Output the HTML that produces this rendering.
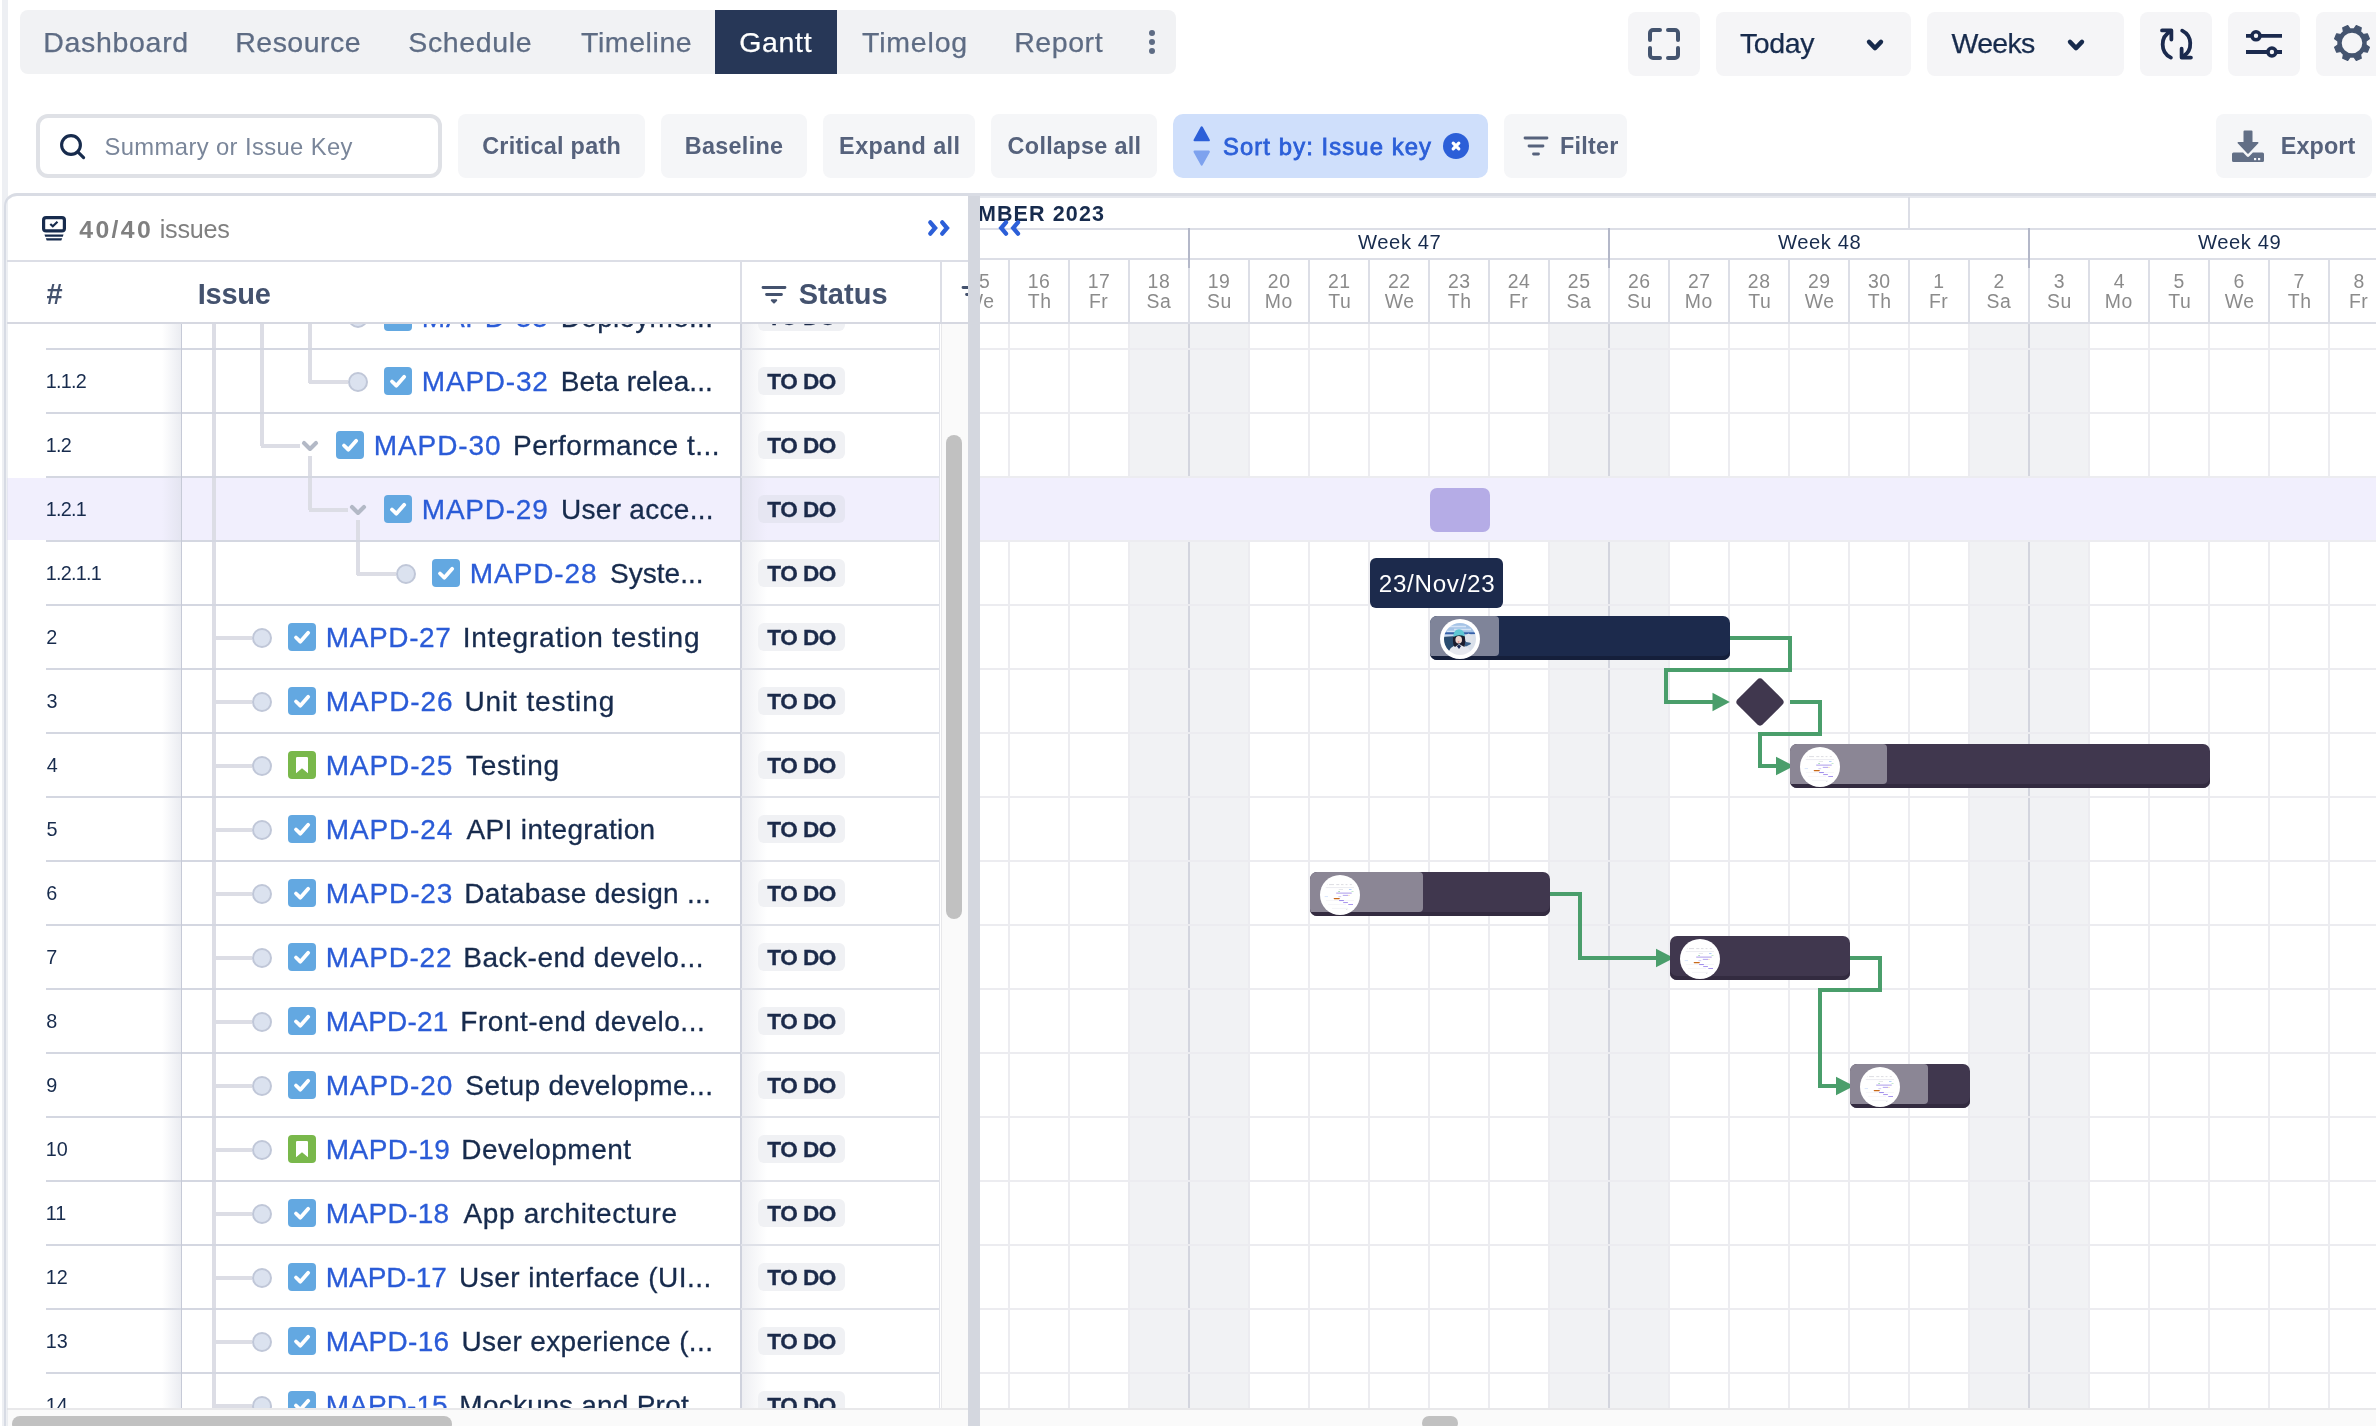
<!DOCTYPE html>
<html><head><meta charset="utf-8"><title>Gantt</title>
<style>
html,body{margin:0;padding:0;background:#fff;}
body{will-change:transform;width:2376px;height:1426px;position:relative;overflow:hidden;font-family:"Liberation Sans",sans-serif;}
.b{position:absolute;box-sizing:content-box;}
.t{position:absolute;white-space:nowrap;}
svg{display:block;overflow:visible;}
</style></head>
<body>
<div class="b" style="left:20px;top:10px;width:1156px;height:64px;background:#f1f2f4;border-radius:8px;"></div>
<div class="b" style="left:715px;top:10px;width:122px;height:64px;background:#273757;"></div>
<div class="t" style="left:43.23px;top:23.82px;font-size:28.5px;line-height:37px;color:#5e6c84;letter-spacing:0.694px;-webkit-text-stroke:0.25px;">Dashboard</div>
<div class="t" style="left:235.22px;top:23.82px;font-size:28.5px;line-height:37px;color:#5e6c84;letter-spacing:0.489px;-webkit-text-stroke:0.25px;">Resource</div>
<div class="t" style="left:408.35px;top:23.82px;font-size:28.5px;line-height:37px;color:#5e6c84;letter-spacing:0.632px;-webkit-text-stroke:0.25px;">Schedule</div>
<div class="t" style="left:580.98px;top:23.82px;font-size:28.5px;line-height:37px;color:#5e6c84;letter-spacing:0.579px;-webkit-text-stroke:0.25px;">Timeline</div>
<div class="t" style="left:861.98px;top:23.82px;font-size:28.5px;line-height:37px;color:#5e6c84;letter-spacing:0.821px;-webkit-text-stroke:0.25px;">Timelog</div>
<div class="t" style="left:1014.23px;top:23.82px;font-size:28.5px;line-height:37px;color:#5e6c84;letter-spacing:0.560px;-webkit-text-stroke:0.25px;">Report</div>
<div class="t" style="left:739.23px;top:23.82px;font-size:28.5px;line-height:37px;color:#ffffff;letter-spacing:0.669px;-webkit-text-stroke:0.25px;">Gantt</div>
<div class="b" style="left:1149px;top:30px;width:6px;height:6px;background:#5e6c84;border-radius:3px;"></div>
<div class="b" style="left:1149px;top:39px;width:6px;height:6px;background:#5e6c84;border-radius:3px;"></div>
<div class="b" style="left:1149px;top:48px;width:6px;height:6px;background:#5e6c84;border-radius:3px;"></div>
<div class="b" style="left:1628px;top:12px;width:72px;height:64px;background:#f5f5f7;border-radius:8px;"></div>
<div class="b" style="left:1716px;top:12px;width:195px;height:64px;background:#f5f5f7;border-radius:8px;"></div>
<div class="b" style="left:1927px;top:12px;width:197px;height:64px;background:#f5f5f7;border-radius:8px;"></div>
<div class="b" style="left:2140px;top:12px;width:72px;height:64px;background:#f5f5f7;border-radius:8px;"></div>
<div class="b" style="left:2228px;top:12px;width:72px;height:64px;background:#f5f5f7;border-radius:8px;"></div>
<div class="b" style="left:2316px;top:12px;width:72px;height:64px;background:#f5f5f7;border-radius:8px;"></div>
<div class="t" style="left:1739.97px;top:24.62px;font-size:28.5px;line-height:37px;color:#172b4d;letter-spacing:-0.362px;-webkit-text-stroke:0.25px;">Today</div>
<div class="t" style="left:1951.47px;top:24.62px;font-size:28.5px;line-height:37px;color:#172b4d;letter-spacing:-0.675px;-webkit-text-stroke:0.25px;">Weeks</div>
<svg class="b" style="left:1863px;top:32.9px;" width="24" height="24" viewBox="0 0 24 24"><path d="M6 8.900 L12 15.100 L18 8.900" fill="none" stroke="#172b4d" stroke-width="4.400" stroke-linecap="round" stroke-linejoin="round"/></svg>
<svg class="b" style="left:2064px;top:32.9px;" width="24" height="24" viewBox="0 0 24 24"><path d="M6 8.900 L12 15.100 L18 8.900" fill="none" stroke="#172b4d" stroke-width="4.400" stroke-linecap="round" stroke-linejoin="round"/></svg>
<svg class="b" style="left:1644px;top:23.799999999999997px;" width="40" height="40" viewBox="0 0 40 40"><g transform="translate(20,20)" fill="none" stroke="#44546f" stroke-width="4" stroke-linecap="round"><path d="M-14 -4V-11a3 3 0 0 1 3-3H-4"/><path d="M4 -14H11a3 3 0 0 1 3 3V-4"/><path d="M14 4V11a3 3 0 0 1-3 3H4"/><path d="M-4 14H-11a3 3 0 0 1-3-3V4"/></g></svg>
<svg class="b" style="left:2156px;top:24px;" width="40" height="40" viewBox="0 0 40 40"><g transform="translate(20.300,20.300) scale(0.950) translate(-20,-20)" fill="none" stroke="#1b2a4e" stroke-width="4" stroke-linecap="round" stroke-linejoin="round"><path d="M14.300 34 A15.500 15.500 0 0 1 14.300 6.200"/><path d="M5 5.400H14.800V15"/><path d="M26.200 5.600 A15.500 15.500 0 0 1 27.500 32.500"/><path d="M25.600 24.600V34H35.400"/></g></svg>
<svg class="b" style="left:2244px;top:24px;" width="40" height="40" viewBox="0 0 40 40"><g fill="none" stroke="#1b2a4e" stroke-width="3.800"><path d="M2 11.800H8 M16 11.800H38"/><circle cx="12" cy="11.800" r="4" stroke-width="3.600"/><path d="M2 28H24 M32 28H38"/><circle cx="27.900" cy="28" r="4" stroke-width="3.600"/></g></svg>
<svg class="b" style="left:2329.7px;top:21.4px;" width="44" height="44" viewBox="0 0 44 44"><g transform="translate(22,22)"><path d="M-3.600 -13.500 L-2.700 -17.700 H2.700 L3.600 -13.500Z" transform="rotate(22.5)" fill="#44546f" stroke="#44546f" stroke-width="1.200" stroke-linejoin="round"/><path d="M-3.600 -13.500 L-2.700 -17.700 H2.700 L3.600 -13.500Z" transform="rotate(67.5)" fill="#44546f" stroke="#44546f" stroke-width="1.200" stroke-linejoin="round"/><path d="M-3.600 -13.500 L-2.700 -17.700 H2.700 L3.600 -13.500Z" transform="rotate(112.5)" fill="#44546f" stroke="#44546f" stroke-width="1.200" stroke-linejoin="round"/><path d="M-3.600 -13.500 L-2.700 -17.700 H2.700 L3.600 -13.500Z" transform="rotate(157.5)" fill="#44546f" stroke="#44546f" stroke-width="1.200" stroke-linejoin="round"/><path d="M-3.600 -13.500 L-2.700 -17.700 H2.700 L3.600 -13.500Z" transform="rotate(202.5)" fill="#44546f" stroke="#44546f" stroke-width="1.200" stroke-linejoin="round"/><path d="M-3.600 -13.500 L-2.700 -17.700 H2.700 L3.600 -13.500Z" transform="rotate(247.5)" fill="#44546f" stroke="#44546f" stroke-width="1.200" stroke-linejoin="round"/><path d="M-3.600 -13.500 L-2.700 -17.700 H2.700 L3.600 -13.500Z" transform="rotate(292.5)" fill="#44546f" stroke="#44546f" stroke-width="1.200" stroke-linejoin="round"/><path d="M-3.600 -13.500 L-2.700 -17.700 H2.700 L3.600 -13.500Z" transform="rotate(337.5)" fill="#44546f" stroke="#44546f" stroke-width="1.200" stroke-linejoin="round"/><circle r="12.500" fill="none" stroke="#44546f" stroke-width="4.400"/></g></svg>
<div class="b" style="left:36px;top:114px;width:398px;height:56px;border:4px solid #dfe1e6;border-radius:12px;background:#fff"></div>
<svg class="b" style="left:56px;top:130px;" width="34" height="34" viewBox="0 0 34 34"><circle cx="15" cy="15" r="9.400" fill="none" stroke="#172b4d" stroke-width="3.100"/><path d="M21.800 21.800 L27.600 27.600" stroke="#172b4d" stroke-width="3.100" stroke-linecap="round"/></svg>
<div class="t" style="left:104.47px;top:130.95px;font-size:23.8px;line-height:31px;color:#7a869a;letter-spacing:0.384px;">Summary or Issue Key</div>
<div class="b" style="left:458px;top:114px;width:187px;height:64px;background:#f5f6f8;border-radius:8px;"></div>
<div class="t" style="left:482.20px;top:131.09px;font-size:23.4px;line-height:30px;color:#56627c;letter-spacing:0.287px;font-weight:bold;">Critical path</div>
<div class="b" style="left:661px;top:114px;width:146px;height:64px;background:#f5f6f8;border-radius:8px;"></div>
<div class="t" style="left:684.70px;top:131.09px;font-size:23.4px;line-height:30px;color:#56627c;letter-spacing:0.314px;font-weight:bold;">Baseline</div>
<div class="b" style="left:823px;top:114px;width:152px;height:64px;background:#f5f6f8;border-radius:8px;"></div>
<div class="t" style="left:839.10px;top:131.09px;font-size:23.4px;line-height:30px;color:#56627c;letter-spacing:0.436px;font-weight:bold;">Expand all</div>
<div class="b" style="left:991px;top:114px;width:166px;height:64px;background:#f5f6f8;border-radius:8px;"></div>
<div class="t" style="left:1007.60px;top:131.09px;font-size:23.4px;line-height:30px;color:#56627c;letter-spacing:0.311px;font-weight:bold;">Collapse all</div>
<div class="b" style="left:1173px;top:114px;width:315px;height:64px;background:#cfdffb;border-radius:10px;"></div>
<div class="t" style="left:1222.97px;top:131.45px;font-size:23.8px;line-height:31px;color:#2c5fd8;letter-spacing:1.112px;-webkit-text-stroke:0.8px;">Sort by: Issue key</div>
<svg class="b" style="left:1190px;top:124px;" width="24" height="46" viewBox="0 0 24 46"><path d="M11.700 3.400 L18.800 16.200 H4.600 Z" fill="#2c5fd8" stroke="#2c5fd8" stroke-width="2.200" stroke-linejoin="round"/><path d="M11.700 40.500 L18.800 27.600 H4.600 Z" fill="#7ea2ee" stroke="#7ea2ee" stroke-width="2.200" stroke-linejoin="round"/></svg>
<div class="b" style="left:1442.7px;top:132.8px;width:26.4px;height:26.4px;background:#2c5fd8;border-radius:14px;"></div>
<svg class="b" style="left:1449px;top:139px;" width="14" height="14" viewBox="0 0 14 14"><path d="M4.200 4.200 L9.800 9.800 M9.800 4.200 L4.200 9.800" stroke="#fff" stroke-width="3.200" stroke-linecap="round"/></svg>
<div class="b" style="left:1504px;top:114px;width:123px;height:64px;background:#f5f6f8;border-radius:8px;"></div>
<svg class="b" style="left:1522px;top:134px;" width="28" height="24" viewBox="0 0 28 24"><path d="M3 4H25 M7 12H21 M11.5 20H16.5" stroke="#56627c" stroke-width="2.8" stroke-linecap="round"/></svg>
<div class="t" style="left:1559.90px;top:131.09px;font-size:23.4px;line-height:30px;color:#56627c;letter-spacing:0.265px;font-weight:bold;">Filter</div>
<div class="b" style="left:2216px;top:114px;width:156px;height:64px;background:#f5f6f8;border-radius:8px;"></div>
<svg class="b" style="left:2232px;top:130px;" width="32" height="32" viewBox="0 0 32 32"><path d="M12.5 0.5h7a1 1 0 0 1 1 1V12h5.3a.7 .7 0 0 1 .5 1.2L16.6 23.6a.9 .9 0 0 1-1.2 0L5.7 13.2a.7 .7 0 0 1 .5-1.2h5.3V1.5a1 1 0 0 1 1-1z" fill="#626f86"/><path d="M1.5 22.5h9.6l3.6 3.7a1.8 1.8 0 0 0 2.6 0l3.6-3.7h9.6a1.5 1.5 0 0 1 1.5 1.5v6.5a1.5 1.5 0 0 1-1.5 1.5h-29A1.5 1.5 0 0 1 0 30.500V24a1.500 1.500 0 0 1 1.500-1.500z" fill="#626f86"/><rect x="22" y="28" width="2.2" height="2.2" fill="#f5f6f8"/><rect x="26" y="28" width="2.200" height="2.200" fill="#f5f6f8"/></svg>
<div class="t" style="left:2280.70px;top:131.09px;font-size:23.4px;line-height:30px;color:#56627c;letter-spacing:0.105px;font-weight:bold;">Export</div>
<div class="b" style="left:4px;top:193px;width:962px;height:1240px;border:2px solid #d8dbe4;border-top-width:3px;border-top-color:#d9dce4;border-right:none;border-radius:13px 0 0 0;background:#fff"></div>
<div class="b" style="left:980px;top:197px;width:1396px;height:1229px;background:#fff;"></div>
<div class="b" style="left:960px;top:193px;width:1416px;height:3px;background:#d9dce4;"></div>
<div class="b" style="left:980px;top:196px;width:1396px;height:2px;background:#e6e8ee;"></div>
<div class="b" style="left:1129px;top:324px;width:120px;height:1084px;background:#f1f2f4;"></div>
<div class="b" style="left:1549px;top:324px;width:120px;height:1084px;background:#f1f2f4;"></div>
<div class="b" style="left:1969px;top:324px;width:120px;height:1084px;background:#f1f2f4;"></div>
<div class="b" style="left:949px;top:324px;width:60px;height:1084px;background:#fff;"></div>
<div class="b" style="left:980px;top:478px;width:1396px;height:63px;background:#f1effd;"></div>
<div class="b" style="left:1008px;top:324px;width:2px;height:1084px;background:#ececf0;"></div>
<div class="b" style="left:1068px;top:324px;width:2px;height:1084px;background:#ececf0;"></div>
<div class="b" style="left:1128px;top:324px;width:2px;height:1084px;background:#ececf0;"></div>
<div class="b" style="left:1188px;top:324px;width:2px;height:1084px;background:#d3d5de;"></div>
<div class="b" style="left:1248px;top:324px;width:2px;height:1084px;background:#ececf0;"></div>
<div class="b" style="left:1308px;top:324px;width:2px;height:1084px;background:#ececf0;"></div>
<div class="b" style="left:1368px;top:324px;width:2px;height:1084px;background:#ececf0;"></div>
<div class="b" style="left:1428px;top:324px;width:2px;height:1084px;background:#ececf0;"></div>
<div class="b" style="left:1488px;top:324px;width:2px;height:1084px;background:#ececf0;"></div>
<div class="b" style="left:1548px;top:324px;width:2px;height:1084px;background:#ececf0;"></div>
<div class="b" style="left:1608px;top:324px;width:2px;height:1084px;background:#d3d5de;"></div>
<div class="b" style="left:1668px;top:324px;width:2px;height:1084px;background:#ececf0;"></div>
<div class="b" style="left:1728px;top:324px;width:2px;height:1084px;background:#ececf0;"></div>
<div class="b" style="left:1788px;top:324px;width:2px;height:1084px;background:#ececf0;"></div>
<div class="b" style="left:1848px;top:324px;width:2px;height:1084px;background:#ececf0;"></div>
<div class="b" style="left:1908px;top:324px;width:2px;height:1084px;background:#ececf0;"></div>
<div class="b" style="left:1968px;top:324px;width:2px;height:1084px;background:#ececf0;"></div>
<div class="b" style="left:2028px;top:324px;width:2px;height:1084px;background:#d3d5de;"></div>
<div class="b" style="left:2088px;top:324px;width:2px;height:1084px;background:#ececf0;"></div>
<div class="b" style="left:2148px;top:324px;width:2px;height:1084px;background:#ececf0;"></div>
<div class="b" style="left:2208px;top:324px;width:2px;height:1084px;background:#ececf0;"></div>
<div class="b" style="left:2268px;top:324px;width:2px;height:1084px;background:#ececf0;"></div>
<div class="b" style="left:2328px;top:324px;width:2px;height:1084px;background:#ececf0;"></div>
<div class="b" style="left:980px;top:348px;width:1396px;height:2px;background:#ececf0;"></div>
<div class="b" style="left:980px;top:412px;width:1396px;height:2px;background:#ececf0;"></div>
<div class="b" style="left:980px;top:476px;width:1396px;height:2px;background:#ececf0;"></div>
<div class="b" style="left:980px;top:540px;width:1396px;height:2px;background:#ececf0;"></div>
<div class="b" style="left:980px;top:604px;width:1396px;height:2px;background:#ececf0;"></div>
<div class="b" style="left:980px;top:668px;width:1396px;height:2px;background:#ececf0;"></div>
<div class="b" style="left:980px;top:732px;width:1396px;height:2px;background:#ececf0;"></div>
<div class="b" style="left:980px;top:796px;width:1396px;height:2px;background:#ececf0;"></div>
<div class="b" style="left:980px;top:860px;width:1396px;height:2px;background:#ececf0;"></div>
<div class="b" style="left:980px;top:924px;width:1396px;height:2px;background:#ececf0;"></div>
<div class="b" style="left:980px;top:988px;width:1396px;height:2px;background:#ececf0;"></div>
<div class="b" style="left:980px;top:1052px;width:1396px;height:2px;background:#ececf0;"></div>
<div class="b" style="left:980px;top:1116px;width:1396px;height:2px;background:#ececf0;"></div>
<div class="b" style="left:980px;top:1180px;width:1396px;height:2px;background:#ececf0;"></div>
<div class="b" style="left:980px;top:1244px;width:1396px;height:2px;background:#ececf0;"></div>
<div class="b" style="left:980px;top:1308px;width:1396px;height:2px;background:#ececf0;"></div>
<div class="b" style="left:980px;top:1372px;width:1396px;height:2px;background:#ececf0;"></div>
<div class="b" style="left:980px;top:478px;width:1396px;height:62px;background:#f1effd;"></div>
<div class="b" style="left:980px;top:228px;width:1396px;height:2px;background:#dcdee6;"></div>
<div class="b" style="left:980px;top:258px;width:1396px;height:2px;background:#dcdee6;"></div>
<div class="b" style="left:980px;top:322px;width:1396px;height:2px;background:#dcdee6;"></div>
<div class="b" style="left:1908px;top:197px;width:2px;height:32px;background:#dcdee6;"></div>
<div class="b" style="left:1008px;top:260px;width:2px;height:62px;background:#dcdee6;"></div>
<div class="b" style="left:1068px;top:260px;width:2px;height:62px;background:#dcdee6;"></div>
<div class="b" style="left:1128px;top:260px;width:2px;height:62px;background:#dcdee6;"></div>
<div class="b" style="left:1188px;top:260px;width:2px;height:62px;background:#dcdee6;"></div>
<div class="b" style="left:1248px;top:260px;width:2px;height:62px;background:#dcdee6;"></div>
<div class="b" style="left:1308px;top:260px;width:2px;height:62px;background:#dcdee6;"></div>
<div class="b" style="left:1368px;top:260px;width:2px;height:62px;background:#dcdee6;"></div>
<div class="b" style="left:1428px;top:260px;width:2px;height:62px;background:#dcdee6;"></div>
<div class="b" style="left:1488px;top:260px;width:2px;height:62px;background:#dcdee6;"></div>
<div class="b" style="left:1548px;top:260px;width:2px;height:62px;background:#dcdee6;"></div>
<div class="b" style="left:1608px;top:260px;width:2px;height:62px;background:#dcdee6;"></div>
<div class="b" style="left:1668px;top:260px;width:2px;height:62px;background:#dcdee6;"></div>
<div class="b" style="left:1728px;top:260px;width:2px;height:62px;background:#dcdee6;"></div>
<div class="b" style="left:1788px;top:260px;width:2px;height:62px;background:#dcdee6;"></div>
<div class="b" style="left:1848px;top:260px;width:2px;height:62px;background:#dcdee6;"></div>
<div class="b" style="left:1908px;top:260px;width:2px;height:62px;background:#dcdee6;"></div>
<div class="b" style="left:1968px;top:260px;width:2px;height:62px;background:#dcdee6;"></div>
<div class="b" style="left:2028px;top:260px;width:2px;height:62px;background:#dcdee6;"></div>
<div class="b" style="left:2088px;top:260px;width:2px;height:62px;background:#dcdee6;"></div>
<div class="b" style="left:2148px;top:260px;width:2px;height:62px;background:#dcdee6;"></div>
<div class="b" style="left:2208px;top:260px;width:2px;height:62px;background:#dcdee6;"></div>
<div class="b" style="left:2268px;top:260px;width:2px;height:62px;background:#dcdee6;"></div>
<div class="b" style="left:2328px;top:260px;width:2px;height:62px;background:#dcdee6;"></div>
<div class="b" style="left:1188px;top:228px;width:2px;height:32px;background:#dcdee6;"></div>
<div class="b" style="left:1188px;top:228px;width:2px;height:40px;background:#b4b8c9;"></div>
<div class="b" style="left:1608px;top:228px;width:2px;height:32px;background:#dcdee6;"></div>
<div class="b" style="left:1608px;top:228px;width:2px;height:40px;background:#b4b8c9;"></div>
<div class="b" style="left:2028px;top:228px;width:2px;height:32px;background:#dcdee6;"></div>
<div class="b" style="left:2028px;top:228px;width:2px;height:40px;background:#b4b8c9;"></div>
<div class="b" style="left:980px;top:197px;width:200px;height:31px;overflow:hidden">
<div class="t" style="right:75px;top:2.8px;font-size:21.5px;line-height:28px;font-weight:bold;color:#172b4d;letter-spacing:1.1px;">NOVEMBER 2023</div>
</div>
<div class="t" style="left:1357.95px;top:228.80px;font-size:20.2px;line-height:26px;color:#172b4d;letter-spacing:0.600px;">Week 47</div>
<div class="t" style="left:1777.89px;top:228.80px;font-size:20.2px;line-height:26px;color:#172b4d;letter-spacing:0.600px;">Week 48</div>
<div class="t" style="left:2197.89px;top:228.80px;font-size:20.2px;line-height:26px;color:#172b4d;letter-spacing:0.600px;">Week 49</div>
<div class="t" style="left:967.58px;top:268.50px;font-size:19.4px;line-height:25px;color:#8b8b8b;letter-spacing:0.600px;">15</div>
<div class="t" style="left:964.70px;top:288.80px;font-size:19.4px;line-height:25px;color:#8b8b8b;letter-spacing:0.600px;">We</div>
<div class="t" style="left:1027.64px;top:268.50px;font-size:19.4px;line-height:25px;color:#8b8b8b;letter-spacing:0.600px;">16</div>
<div class="t" style="left:1027.83px;top:288.80px;font-size:19.4px;line-height:25px;color:#8b8b8b;letter-spacing:0.600px;">Th</div>
<div class="t" style="left:1087.64px;top:268.50px;font-size:19.4px;line-height:25px;color:#8b8b8b;letter-spacing:0.600px;">17</div>
<div class="t" style="left:1088.89px;top:288.80px;font-size:19.4px;line-height:25px;color:#8b8b8b;letter-spacing:0.600px;">Fr</div>
<div class="t" style="left:1147.58px;top:268.50px;font-size:19.4px;line-height:25px;color:#8b8b8b;letter-spacing:0.600px;">18</div>
<div class="t" style="left:1146.39px;top:288.80px;font-size:19.4px;line-height:25px;color:#8b8b8b;letter-spacing:0.600px;">Sa</div>
<div class="t" style="left:1207.64px;top:268.50px;font-size:19.4px;line-height:25px;color:#8b8b8b;letter-spacing:0.600px;">19</div>
<div class="t" style="left:1207.01px;top:288.80px;font-size:19.4px;line-height:25px;color:#8b8b8b;letter-spacing:0.600px;">Su</div>
<div class="t" style="left:1267.83px;top:268.50px;font-size:19.4px;line-height:25px;color:#8b8b8b;letter-spacing:0.600px;">20</div>
<div class="t" style="left:1264.83px;top:288.80px;font-size:19.4px;line-height:25px;color:#8b8b8b;letter-spacing:0.600px;">Mo</div>
<div class="t" style="left:1327.89px;top:268.50px;font-size:19.4px;line-height:25px;color:#8b8b8b;letter-spacing:0.600px;">21</div>
<div class="t" style="left:1328.20px;top:288.80px;font-size:19.4px;line-height:25px;color:#8b8b8b;letter-spacing:0.600px;">Tu</div>
<div class="t" style="left:1387.89px;top:268.50px;font-size:19.4px;line-height:25px;color:#8b8b8b;letter-spacing:0.600px;">22</div>
<div class="t" style="left:1384.70px;top:288.80px;font-size:19.4px;line-height:25px;color:#8b8b8b;letter-spacing:0.600px;">We</div>
<div class="t" style="left:1447.89px;top:268.50px;font-size:19.4px;line-height:25px;color:#8b8b8b;letter-spacing:0.600px;">23</div>
<div class="t" style="left:1447.83px;top:288.80px;font-size:19.4px;line-height:25px;color:#8b8b8b;letter-spacing:0.600px;">Th</div>
<div class="t" style="left:1507.70px;top:268.50px;font-size:19.4px;line-height:25px;color:#8b8b8b;letter-spacing:0.600px;">24</div>
<div class="t" style="left:1508.89px;top:288.80px;font-size:19.4px;line-height:25px;color:#8b8b8b;letter-spacing:0.600px;">Fr</div>
<div class="t" style="left:1567.83px;top:268.50px;font-size:19.4px;line-height:25px;color:#8b8b8b;letter-spacing:0.600px;">25</div>
<div class="t" style="left:1566.39px;top:288.80px;font-size:19.4px;line-height:25px;color:#8b8b8b;letter-spacing:0.600px;">Sa</div>
<div class="t" style="left:1627.89px;top:268.50px;font-size:19.4px;line-height:25px;color:#8b8b8b;letter-spacing:0.600px;">26</div>
<div class="t" style="left:1627.01px;top:288.80px;font-size:19.4px;line-height:25px;color:#8b8b8b;letter-spacing:0.600px;">Su</div>
<div class="t" style="left:1687.89px;top:268.50px;font-size:19.4px;line-height:25px;color:#8b8b8b;letter-spacing:0.600px;">27</div>
<div class="t" style="left:1684.83px;top:288.80px;font-size:19.4px;line-height:25px;color:#8b8b8b;letter-spacing:0.600px;">Mo</div>
<div class="t" style="left:1747.83px;top:268.50px;font-size:19.4px;line-height:25px;color:#8b8b8b;letter-spacing:0.600px;">28</div>
<div class="t" style="left:1748.20px;top:288.80px;font-size:19.4px;line-height:25px;color:#8b8b8b;letter-spacing:0.600px;">Tu</div>
<div class="t" style="left:1807.89px;top:268.50px;font-size:19.4px;line-height:25px;color:#8b8b8b;letter-spacing:0.600px;">29</div>
<div class="t" style="left:1804.70px;top:288.80px;font-size:19.4px;line-height:25px;color:#8b8b8b;letter-spacing:0.600px;">We</div>
<div class="t" style="left:1867.95px;top:268.50px;font-size:19.4px;line-height:25px;color:#8b8b8b;letter-spacing:0.600px;">30</div>
<div class="t" style="left:1867.83px;top:288.80px;font-size:19.4px;line-height:25px;color:#8b8b8b;letter-spacing:0.600px;">Th</div>
<div class="t" style="left:1933.31px;top:268.50px;font-size:19.4px;line-height:25px;color:#8b8b8b;letter-spacing:0.600px;">1</div>
<div class="t" style="left:1928.89px;top:288.80px;font-size:19.4px;line-height:25px;color:#8b8b8b;letter-spacing:0.600px;">Fr</div>
<div class="t" style="left:1993.56px;top:268.50px;font-size:19.4px;line-height:25px;color:#8b8b8b;letter-spacing:0.600px;">2</div>
<div class="t" style="left:1986.39px;top:288.80px;font-size:19.4px;line-height:25px;color:#8b8b8b;letter-spacing:0.600px;">Sa</div>
<div class="t" style="left:2053.69px;top:268.50px;font-size:19.4px;line-height:25px;color:#8b8b8b;letter-spacing:0.600px;">3</div>
<div class="t" style="left:2047.01px;top:288.80px;font-size:19.4px;line-height:25px;color:#8b8b8b;letter-spacing:0.600px;">Su</div>
<div class="t" style="left:2113.69px;top:268.50px;font-size:19.4px;line-height:25px;color:#8b8b8b;letter-spacing:0.600px;">4</div>
<div class="t" style="left:2104.82px;top:288.80px;font-size:19.4px;line-height:25px;color:#8b8b8b;letter-spacing:0.600px;">Mo</div>
<div class="t" style="left:2173.62px;top:268.50px;font-size:19.4px;line-height:25px;color:#8b8b8b;letter-spacing:0.600px;">5</div>
<div class="t" style="left:2168.20px;top:288.80px;font-size:19.4px;line-height:25px;color:#8b8b8b;letter-spacing:0.600px;">Tu</div>
<div class="t" style="left:2233.56px;top:268.50px;font-size:19.4px;line-height:25px;color:#8b8b8b;letter-spacing:0.600px;">6</div>
<div class="t" style="left:2224.70px;top:288.80px;font-size:19.4px;line-height:25px;color:#8b8b8b;letter-spacing:0.600px;">We</div>
<div class="t" style="left:2293.56px;top:268.50px;font-size:19.4px;line-height:25px;color:#8b8b8b;letter-spacing:0.600px;">7</div>
<div class="t" style="left:2287.82px;top:288.80px;font-size:19.4px;line-height:25px;color:#8b8b8b;letter-spacing:0.600px;">Th</div>
<div class="t" style="left:2353.56px;top:268.50px;font-size:19.4px;line-height:25px;color:#8b8b8b;letter-spacing:0.600px;">8</div>
<div class="t" style="left:2348.89px;top:288.80px;font-size:19.4px;line-height:25px;color:#8b8b8b;letter-spacing:0.600px;">Fr</div>
<svg class="b" style="left:996px;top:218px;" width="26" height="20" viewBox="0 0 26 20"><path d="M10 4.300 L5.200 10 L10 15.700 M22 4.300 L17.200 10 L22 15.700" fill="none" stroke="#2c5fd8" stroke-width="4.300" stroke-linecap="round" stroke-linejoin="miter"/></svg>
<div class="b" style="left:1430px;top:488px;width:60px;height:44px;background:#b5ace6;border-radius:7px;"></div>
<div class="b" style="left:1370px;top:558px;width:133px;height:50px;background:#1c2a4c;border-radius:6px;"></div>
<div class="t" style="left:1378.75px;top:567.81px;font-size:24.2px;line-height:31px;color:#ffffff;letter-spacing:0.713px;">23/Nov/23</div>
<svg class="b" style="left:0px;top:0px;" width="2376" height="1426" viewBox="0 0 2376 1426"><path d="M1730 638 L1790 638 L1790 670 L1666 670 L1666 702 L1714 702" fill="none" stroke="#4a9e6b" stroke-width="4" stroke-linejoin="miter"/><path d="M1729.8 702 L1712.5 692.8 L1712.5 711.2 Z" fill="#4a9e6b"/><path d="M1790 702 L1820 702 L1820 734 L1760 734 L1760 766 L1778 766" fill="none" stroke="#4a9e6b" stroke-width="4" stroke-linejoin="miter"/><path d="M1794 766 L1776 756.8 L1776 775.2 Z" fill="#4a9e6b"/><path d="M1550 894 L1580 894 L1580 958 L1658 958" fill="none" stroke="#4a9e6b" stroke-width="4" stroke-linejoin="miter"/><path d="M1674 958 L1656 948.8 L1656 967.2 Z" fill="#4a9e6b"/><path d="M1850 958 L1880 958 L1880 990 L1820 990 L1820 1086 L1838 1086" fill="none" stroke="#4a9e6b" stroke-width="4" stroke-linejoin="miter"/><path d="M1854 1086 L1836 1076.8 L1836 1095.2 Z" fill="#4a9e6b"/></svg>
<div class="b" style="left:1430px;top:616px;width:300px;height:44px;background:#1c2a4c;border-radius:7px;box-shadow:inset 0 -4px 0 #151f3b;overflow:hidden"><div style="position:absolute;left:0;top:0;width:69px;height:40px;background:#7f8499;border-radius:6px 4px 4px 0"></div></div>
<div class="b" style="left:1440px;top:619px;width:40px;height:40px;background:#fff;border-radius:20px;"></div>
<svg class="b" style="left:1444px;top:623px;" width="32" height="32" viewBox="0 0 32 32"><defs><clipPath id="cp"><circle cx="16" cy="16" r="16"/></clipPath><filter id="bl" x="-20%" y="-20%" width="140%" height="140%"><feGaussianBlur stdDeviation="0.55"/></filter></defs><g clip-path="url(#cp)"><g filter="url(#bl)"><rect x="-2" y="-2" width="36" height="36" fill="#a5c3e6"/><path d="M4 3.500H22 M10 6.500H27 M3 8.500H14" stroke="#d4e3f5" stroke-width="1.300"/><rect x="-2" y="9.300" width="36" height="2.200" fill="#3560a8"/><rect x="-2" y="11.500" width="36" height="3" fill="#c9d9ee"/><path d="M-2 14 L12 13 L14 30 L-2 30Z" fill="#2c4d70"/><path d="M20 12 L34 11 V30 H20Z" fill="#d9e0ea"/><path d="M19 19 L25 16 L27 21 L21 24Z" fill="#3a5f88"/><path d="M3 34 Q5 22 15 21.500 Q26 22 29 34Z" fill="#e6e8ef"/><path d="M19 14 L24.500 10.500 L29 13 L28 20 L22 19Z" fill="#dde2ea"/><path d="M9 13.500 Q8.500 23 11 24 L15 21 L20.500 24 Q22 18 20.800 13 Q15 9 9 13.500Z" fill="#1a1f2e"/><ellipse cx="14.700" cy="16.700" rx="3.300" ry="3.800" fill="#edd6cf"/><path d="M13.800 18.300 H15.300 V19.600 H13.800Z" fill="#d9807f"/><path d="M12.800 23 L15 26 L17.200 23 L15 21.800Z" fill="#1d2a55"/><path d="M9.300 14 Q9.500 6.500 15 6.300 Q20.500 6.500 20.800 13.500 Q15 10.800 9.300 14Z" fill="#5fc7d4"/></g></g></svg>
<svg class="b" style="left:1732px;top:674px;" width="56" height="56" viewBox="0 0 56 56"><rect x="10.200" y="10.200" width="35.600" height="35.600" rx="4" transform="rotate(45 28 28)" fill="#40374e"/></svg>
<div class="b" style="left:1790px;top:744px;width:420px;height:44px;background:#40374e;border-radius:7px;box-shadow:inset 0 -4px 0 #332b40;overflow:hidden"><div style="position:absolute;left:0;top:0;width:97px;height:40px;background:#8b8695;border-radius:6px 4px 4px 0"></div></div>
<div class="b" style="left:1800px;top:747px;width:40px;height:40px;background:#fff;border-radius:20px;"></div>
<svg class="b" style="left:1800px;top:747px;" width="40" height="40" viewBox="0 0 40 40"><g transform="translate(20,20)" stroke-linecap="butt"><path d="M-12.700 -10.400H-12.200 M-11 -10.400H-6 M-3.700 -10.400H-0.700 M1 -10.400H3.500 M5.600 -10.400H7.400 M9.800 -10.400H11.800" stroke="#d3d3da" stroke-width="0.800"/><path d="M-14.300 -7.400H14" stroke="#ececf1" stroke-width="1"/><path d="M-14 5.500H14 M-12 9.500H6" stroke="#f4f4f8" stroke-width="0.800"/><path d="M-1.200 -5.500H3" stroke="#dcdce2" stroke-width="0.700"/><path d="M9 -5.500H11.500" stroke="#a9cbf9" stroke-width="0.900"/><path d="M-1.800 -3.500H0" stroke="#9adbab" stroke-width="0.800"/><path d="M11.500 -3.500H13.500" stroke="#a8e0b7" stroke-width="0.700"/><path d="M-3.800 -1.850H11.700" stroke="#c4b7f0" stroke-width="1.400"/><path d="M2.800 0.400H8.100" stroke="#bbabf0" stroke-width="1.100"/><path d="M8.300 0.400H9.700" stroke="#f6d4ab" stroke-width="0.900"/><path d="M-15.300 1.550H-12" stroke="#cfe0fb" stroke-width="0.800"/><path d="M-1.600 1.650H1.200" stroke="#cdc2f4" stroke-width="0.900"/><path d="M-5.700 3.600H-0.800" stroke="#c8691a" stroke-width="1.250" stroke-linecap="round"/><path d="M-0.900 5.550H3.900" stroke="#9c88ec" stroke-width="1"/><path d="M3.200 7.550H7.900" stroke="#a995ee" stroke-width="1"/><path d="M8.300 9.500H13" stroke="#a995ee" stroke-width="1"/><path d="M-8 13.400H8" stroke="#f1f1f5" stroke-width="0.800"/><path d="M6 14.500H7.300" stroke="#d9d9df" stroke-width="0.700"/></g></svg>
<div class="b" style="left:1310px;top:872px;width:240px;height:44px;background:#40374e;border-radius:7px;box-shadow:inset 0 -4px 0 #332b40;overflow:hidden"><div style="position:absolute;left:0;top:0;width:113px;height:40px;background:#8b8695;border-radius:6px 4px 4px 0"></div></div>
<div class="b" style="left:1320px;top:875px;width:40px;height:40px;background:#fff;border-radius:20px;"></div>
<svg class="b" style="left:1320px;top:875px;" width="40" height="40" viewBox="0 0 40 40"><g transform="translate(20,20)" stroke-linecap="butt"><path d="M-12.700 -10.400H-12.200 M-11 -10.400H-6 M-3.700 -10.400H-0.700 M1 -10.400H3.500 M5.600 -10.400H7.400 M9.800 -10.400H11.800" stroke="#d3d3da" stroke-width="0.800"/><path d="M-14.300 -7.400H14" stroke="#ececf1" stroke-width="1"/><path d="M-14 5.500H14 M-12 9.500H6" stroke="#f4f4f8" stroke-width="0.800"/><path d="M-1.200 -5.500H3" stroke="#dcdce2" stroke-width="0.700"/><path d="M9 -5.500H11.500" stroke="#a9cbf9" stroke-width="0.900"/><path d="M-1.800 -3.500H0" stroke="#9adbab" stroke-width="0.800"/><path d="M11.500 -3.500H13.500" stroke="#a8e0b7" stroke-width="0.700"/><path d="M-3.800 -1.850H11.700" stroke="#c4b7f0" stroke-width="1.400"/><path d="M2.800 0.400H8.100" stroke="#bbabf0" stroke-width="1.100"/><path d="M8.300 0.400H9.700" stroke="#f6d4ab" stroke-width="0.900"/><path d="M-15.300 1.550H-12" stroke="#cfe0fb" stroke-width="0.800"/><path d="M-1.600 1.650H1.200" stroke="#cdc2f4" stroke-width="0.900"/><path d="M-5.700 3.600H-0.800" stroke="#c8691a" stroke-width="1.250" stroke-linecap="round"/><path d="M-0.900 5.550H3.900" stroke="#9c88ec" stroke-width="1"/><path d="M3.200 7.550H7.900" stroke="#a995ee" stroke-width="1"/><path d="M8.300 9.500H13" stroke="#a995ee" stroke-width="1"/><path d="M-8 13.400H8" stroke="#f1f1f5" stroke-width="0.800"/><path d="M6 14.500H7.300" stroke="#d9d9df" stroke-width="0.700"/></g></svg>
<div class="b" style="left:1670px;top:936px;width:180px;height:44px;background:#40374e;border-radius:7px;box-shadow:inset 0 -4px 0 #332b40;overflow:hidden"></div>
<div class="b" style="left:1680px;top:939px;width:40px;height:40px;background:#fff;border-radius:20px;"></div>
<svg class="b" style="left:1680px;top:939px;" width="40" height="40" viewBox="0 0 40 40"><g transform="translate(20,20)" stroke-linecap="butt"><path d="M-12.700 -10.400H-12.200 M-11 -10.400H-6 M-3.700 -10.400H-0.700 M1 -10.400H3.500 M5.600 -10.400H7.400 M9.800 -10.400H11.800" stroke="#d3d3da" stroke-width="0.800"/><path d="M-14.300 -7.400H14" stroke="#ececf1" stroke-width="1"/><path d="M-14 5.500H14 M-12 9.500H6" stroke="#f4f4f8" stroke-width="0.800"/><path d="M-1.200 -5.500H3" stroke="#dcdce2" stroke-width="0.700"/><path d="M9 -5.500H11.500" stroke="#a9cbf9" stroke-width="0.900"/><path d="M-1.800 -3.500H0" stroke="#9adbab" stroke-width="0.800"/><path d="M11.500 -3.500H13.500" stroke="#a8e0b7" stroke-width="0.700"/><path d="M-3.800 -1.850H11.700" stroke="#c4b7f0" stroke-width="1.400"/><path d="M2.800 0.400H8.100" stroke="#bbabf0" stroke-width="1.100"/><path d="M8.300 0.400H9.700" stroke="#f6d4ab" stroke-width="0.900"/><path d="M-15.300 1.550H-12" stroke="#cfe0fb" stroke-width="0.800"/><path d="M-1.600 1.650H1.200" stroke="#cdc2f4" stroke-width="0.900"/><path d="M-5.700 3.600H-0.800" stroke="#c8691a" stroke-width="1.250" stroke-linecap="round"/><path d="M-0.900 5.550H3.900" stroke="#9c88ec" stroke-width="1"/><path d="M3.200 7.550H7.900" stroke="#a995ee" stroke-width="1"/><path d="M8.300 9.500H13" stroke="#a995ee" stroke-width="1"/><path d="M-8 13.400H8" stroke="#f1f1f5" stroke-width="0.800"/><path d="M6 14.500H7.300" stroke="#d9d9df" stroke-width="0.700"/></g></svg>
<div class="b" style="left:1850px;top:1064px;width:120px;height:44px;background:#40374e;border-radius:7px;box-shadow:inset 0 -4px 0 #332b40;overflow:hidden"><div style="position:absolute;left:0;top:0;width:78px;height:40px;background:#8b8695;border-radius:6px 4px 4px 0"></div></div>
<div class="b" style="left:1860px;top:1067px;width:40px;height:40px;background:#fff;border-radius:20px;"></div>
<svg class="b" style="left:1860px;top:1067px;" width="40" height="40" viewBox="0 0 40 40"><g transform="translate(20,20)" stroke-linecap="butt"><path d="M-12.700 -10.400H-12.200 M-11 -10.400H-6 M-3.700 -10.400H-0.700 M1 -10.400H3.500 M5.600 -10.400H7.400 M9.800 -10.400H11.800" stroke="#d3d3da" stroke-width="0.800"/><path d="M-14.300 -7.400H14" stroke="#ececf1" stroke-width="1"/><path d="M-14 5.500H14 M-12 9.500H6" stroke="#f4f4f8" stroke-width="0.800"/><path d="M-1.200 -5.500H3" stroke="#dcdce2" stroke-width="0.700"/><path d="M9 -5.500H11.500" stroke="#a9cbf9" stroke-width="0.900"/><path d="M-1.800 -3.500H0" stroke="#9adbab" stroke-width="0.800"/><path d="M11.500 -3.500H13.500" stroke="#a8e0b7" stroke-width="0.700"/><path d="M-3.800 -1.850H11.700" stroke="#c4b7f0" stroke-width="1.400"/><path d="M2.800 0.400H8.100" stroke="#bbabf0" stroke-width="1.100"/><path d="M8.300 0.400H9.700" stroke="#f6d4ab" stroke-width="0.900"/><path d="M-15.300 1.550H-12" stroke="#cfe0fb" stroke-width="0.800"/><path d="M-1.600 1.650H1.200" stroke="#cdc2f4" stroke-width="0.900"/><path d="M-5.700 3.600H-0.800" stroke="#c8691a" stroke-width="1.250" stroke-linecap="round"/><path d="M-0.900 5.550H3.900" stroke="#9c88ec" stroke-width="1"/><path d="M3.200 7.550H7.900" stroke="#a995ee" stroke-width="1"/><path d="M8.300 9.500H13" stroke="#a995ee" stroke-width="1"/><path d="M-8 13.400H8" stroke="#f1f1f5" stroke-width="0.800"/><path d="M6 14.500H7.300" stroke="#d9d9df" stroke-width="0.700"/></g></svg>
<div class="b" style="left:980px;top:1408px;width:1396px;height:18px;background:#fafafa;"></div>
<div class="b" style="left:980px;top:1408px;width:1396px;height:2px;background:#e8e8ea;"></div>
<div class="b" style="left:1422px;top:1416px;width:36px;height:14px;background:#c1c1c1;border-radius:7px;"></div>
<svg class="b" style="left:42px;top:216px;" width="24" height="25" viewBox="0 0 24 25"><rect x="1.600" y="1.600" width="20.800" height="13.300" rx="2.500" fill="none" stroke="#172b4d" stroke-width="3.200"/><path d="M8.300 8 L10.800 10.300 L15.500 5.800" fill="none" stroke="#172b4d" stroke-width="2.200"/><path d="M2.500 18.500H21.500L20.800 20.800H3.200Z M3.800 22.300H20.200L19.300 24.600H4.700Z" fill="#172b4d"/></svg>
<div class="t" style="left:79.22px;top:213.61px;font-size:24.8px;line-height:32px;color:#808080;letter-spacing:2.369px;font-weight:bold;">40/40</div>
<div class="t" style="left:159.78px;top:212.97px;font-size:25.2px;line-height:33px;color:#808080;letter-spacing:-0.240px;">issues</div>
<svg class="b" style="left:926px;top:218px;" width="26" height="20" viewBox="0 0 26 20"><path d="M4.300 4.300 L9.100 10 L4.300 15.700 M16.200 4.300 L21 10 L16.200 15.700" fill="none" stroke="#2c5fd8" stroke-width="4.300" stroke-linecap="round" stroke-linejoin="miter"/></svg>
<div class="b" style="left:7px;top:260px;width:961px;height:2px;background:#dcdee6;"></div>
<div class="b" style="left:7px;top:324px;width:933px;height:1084px;overflow:hidden">
<div class="b" style="left:0px;top:154px;width:933px;height:62px;background:#f1effd;"></div>
<div class="b" style="left:205.2px;top:0px;width:3.5px;height:1084px;background:#dcdde5;"></div>
<div class="b" style="left:253.2px;top:0px;width:3.5px;height:122px;background:#dcdde5;"></div>
<div class="b" style="left:301.2px;top:0px;width:3.5px;height:59px;background:#dcdde5;"></div>
<div class="b" style="left:301.2px;top:132px;width:3.5px;height:54px;background:#dcdde5;"></div>
<div class="b" style="left:349.2px;top:196px;width:3.5px;height:55px;background:#dcdde5;"></div>
<div class="b" style="left:39px;top:24px;width:894px;height:2px;background:#d4d7e1;"></div>
<div class="b" style="left:39px;top:88px;width:894px;height:2px;background:#d4d7e1;"></div>
<div class="b" style="left:39px;top:152px;width:894px;height:2px;background:#d4d7e1;"></div>
<div class="b" style="left:39px;top:216px;width:894px;height:2px;background:#d4d7e1;"></div>
<div class="b" style="left:39px;top:280px;width:894px;height:2px;background:#d4d7e1;"></div>
<div class="b" style="left:39px;top:344px;width:894px;height:2px;background:#d4d7e1;"></div>
<div class="b" style="left:39px;top:408px;width:894px;height:2px;background:#d4d7e1;"></div>
<div class="b" style="left:39px;top:472px;width:894px;height:2px;background:#d4d7e1;"></div>
<div class="b" style="left:39px;top:536px;width:894px;height:2px;background:#d4d7e1;"></div>
<div class="b" style="left:39px;top:600px;width:894px;height:2px;background:#d4d7e1;"></div>
<div class="b" style="left:39px;top:664px;width:894px;height:2px;background:#d4d7e1;"></div>
<div class="b" style="left:39px;top:728px;width:894px;height:2px;background:#d4d7e1;"></div>
<div class="b" style="left:39px;top:792px;width:894px;height:2px;background:#d4d7e1;"></div>
<div class="b" style="left:39px;top:856px;width:894px;height:2px;background:#d4d7e1;"></div>
<div class="b" style="left:39px;top:920px;width:894px;height:2px;background:#d4d7e1;"></div>
<div class="b" style="left:39px;top:984px;width:894px;height:2px;background:#d4d7e1;"></div>
<div class="b" style="left:39px;top:1048px;width:894px;height:2px;background:#d4d7e1;"></div>
<div class="b" style="left:301.5px;top:-7.699999999999989px;width:39.5px;height:3.5px;background:#dcdde5;"></div>
<div class="b" style="left:341px;top:-16px;width:16px;height:16px;border:2px solid #c0c7d8;border-radius:10px;background:#dbe2ef"></div>
<div class="b" style="left:377px;top:-21px;width:28px;height:28px;background:#63a8e1;border-radius:4px;"></div>
<svg class="b" style="left:377px;top:-21px;" width="28" height="28" viewBox="0 0 28 28"><path d="M8 14.500 L12.300 18.700 L20.200 9.800" fill="none" stroke="#fff" stroke-width="3.800" stroke-linecap="round" stroke-linejoin="round"/></svg>
<div class="t" style="margin-left:-7px;margin-top:-324px;left:45.70px;top:304.04px;font-size:19.8px;line-height:26px;color:#172b4d;letter-spacing:-0.750px;">1.1.1</div>
<div class="t" style="margin-left:-7px;margin-top:-324px;left:421.85px;top:299.50px;font-size:28.0px;line-height:36px;color:#2a5bd7;letter-spacing:0.737px;-webkit-text-stroke:0.3px;">MAPD-33</div>
<div class="t" style="margin-left:-7px;margin-top:-324px;left:560.85px;top:299.50px;font-size:28.0px;line-height:36px;color:#172b4d;letter-spacing:0.267px;-webkit-text-stroke:0.3px;">Deployme...</div>
<div class="b" style="left:301.5px;top:56.30000000000001px;width:39.5px;height:3.5px;background:#dcdde5;"></div>
<div class="b" style="left:341px;top:48px;width:16px;height:16px;border:2px solid #c0c7d8;border-radius:10px;background:#dbe2ef"></div>
<div class="b" style="left:377px;top:43px;width:28px;height:28px;background:#63a8e1;border-radius:4px;"></div>
<svg class="b" style="left:377px;top:43px;" width="28" height="28" viewBox="0 0 28 28"><path d="M8 14.500 L12.300 18.700 L20.200 9.800" fill="none" stroke="#fff" stroke-width="3.800" stroke-linecap="round" stroke-linejoin="round"/></svg>
<div class="t" style="margin-left:-7px;margin-top:-324px;left:45.70px;top:368.04px;font-size:19.8px;line-height:26px;color:#172b4d;letter-spacing:-0.750px;">1.1.2</div>
<div class="t" style="margin-left:-7px;margin-top:-324px;left:421.85px;top:363.50px;font-size:28.0px;line-height:36px;color:#2a5bd7;letter-spacing:0.779px;-webkit-text-stroke:0.3px;">MAPD-32</div>
<div class="t" style="margin-left:-7px;margin-top:-324px;left:560.85px;top:363.50px;font-size:28.0px;line-height:36px;color:#172b4d;letter-spacing:0.087px;-webkit-text-stroke:0.3px;">Beta relea...</div>
<div class="b" style="left:253.5px;top:120.30000000000001px;width:39.5px;height:3.5px;background:#dcdde5;"></div>
<svg class="b" style="left:293px;top:115px;" width="20" height="14" viewBox="0 0 20 14"><path d="M4 4.100 L10 9.900 L16 4.100" fill="none" stroke="#b3b9c6" stroke-width="4.200" stroke-linecap="round" stroke-linejoin="round"/></svg>
<div class="b" style="left:329px;top:107px;width:28px;height:28px;background:#63a8e1;border-radius:4px;"></div>
<svg class="b" style="left:329px;top:107px;" width="28" height="28" viewBox="0 0 28 28"><path d="M8 14.500 L12.300 18.700 L20.200 9.800" fill="none" stroke="#fff" stroke-width="3.800" stroke-linecap="round" stroke-linejoin="round"/></svg>
<div class="t" style="margin-left:-7px;margin-top:-324px;left:45.70px;top:432.04px;font-size:19.8px;line-height:26px;color:#172b4d;letter-spacing:-0.750px;">1.2</div>
<div class="t" style="margin-left:-7px;margin-top:-324px;left:373.85px;top:427.50px;font-size:28.0px;line-height:36px;color:#2a5bd7;letter-spacing:0.883px;-webkit-text-stroke:0.3px;">MAPD-30</div>
<div class="t" style="margin-left:-7px;margin-top:-324px;left:513.05px;top:427.50px;font-size:28.0px;line-height:36px;color:#172b4d;letter-spacing:0.482px;-webkit-text-stroke:0.3px;">Performance t...</div>
<div class="b" style="left:301.5px;top:184.3px;width:39.5px;height:3.5px;background:#dcdde5;"></div>
<svg class="b" style="left:341px;top:179px;" width="20" height="14" viewBox="0 0 20 14"><path d="M4 4.100 L10 9.900 L16 4.100" fill="none" stroke="#b3b9c6" stroke-width="4.200" stroke-linecap="round" stroke-linejoin="round"/></svg>
<div class="b" style="left:377px;top:171px;width:28px;height:28px;background:#63a8e1;border-radius:4px;"></div>
<svg class="b" style="left:377px;top:171px;" width="28" height="28" viewBox="0 0 28 28"><path d="M8 14.500 L12.300 18.700 L20.200 9.800" fill="none" stroke="#fff" stroke-width="3.800" stroke-linecap="round" stroke-linejoin="round"/></svg>
<div class="t" style="margin-left:-7px;margin-top:-324px;left:45.70px;top:496.04px;font-size:19.8px;line-height:26px;color:#172b4d;letter-spacing:-0.750px;">1.2.1</div>
<div class="t" style="margin-left:-7px;margin-top:-324px;left:421.85px;top:491.50px;font-size:28.0px;line-height:36px;color:#2a5bd7;letter-spacing:0.758px;-webkit-text-stroke:0.3px;">MAPD-29</div>
<div class="t" style="margin-left:-7px;margin-top:-324px;left:560.98px;top:491.50px;font-size:28.0px;line-height:36px;color:#172b4d;letter-spacing:0.295px;-webkit-text-stroke:0.3px;">User acce...</div>
<div class="b" style="left:349.5px;top:248.29999999999995px;width:39.5px;height:3.5px;background:#dcdde5;"></div>
<div class="b" style="left:389px;top:240px;width:16px;height:16px;border:2px solid #c0c7d8;border-radius:10px;background:#dbe2ef"></div>
<div class="b" style="left:425px;top:235px;width:28px;height:28px;background:#63a8e1;border-radius:4px;"></div>
<svg class="b" style="left:425px;top:235px;" width="28" height="28" viewBox="0 0 28 28"><path d="M8 14.500 L12.300 18.700 L20.200 9.800" fill="none" stroke="#fff" stroke-width="3.800" stroke-linecap="round" stroke-linejoin="round"/></svg>
<div class="t" style="margin-left:-7px;margin-top:-324px;left:45.70px;top:560.04px;font-size:19.8px;line-height:26px;color:#172b4d;letter-spacing:-0.750px;">1.2.1.1</div>
<div class="t" style="margin-left:-7px;margin-top:-324px;left:469.85px;top:555.50px;font-size:28.0px;line-height:36px;color:#2a5bd7;letter-spacing:0.904px;-webkit-text-stroke:0.3px;">MAPD-28</div>
<div class="t" style="margin-left:-7px;margin-top:-324px;left:609.95px;top:555.50px;font-size:28.0px;line-height:36px;color:#172b4d;letter-spacing:0.039px;-webkit-text-stroke:0.3px;">Syste...</div>
<div class="b" style="left:205.5px;top:312.29999999999995px;width:39.5px;height:3.5px;background:#dcdde5;"></div>
<div class="b" style="left:245px;top:304px;width:16px;height:16px;border:2px solid #c0c7d8;border-radius:10px;background:#dbe2ef"></div>
<div class="b" style="left:281px;top:299px;width:28px;height:28px;background:#63a8e1;border-radius:4px;"></div>
<svg class="b" style="left:281px;top:299px;" width="28" height="28" viewBox="0 0 28 28"><path d="M8 14.500 L12.300 18.700 L20.200 9.800" fill="none" stroke="#fff" stroke-width="3.800" stroke-linecap="round" stroke-linejoin="round"/></svg>
<div class="t" style="margin-left:-7px;margin-top:-324px;left:46.20px;top:624.04px;font-size:19.8px;line-height:26px;color:#172b4d;letter-spacing:0.000px;">2</div>
<div class="t" style="margin-left:-7px;margin-top:-324px;left:325.85px;top:619.50px;font-size:28.0px;line-height:36px;color:#2a5bd7;letter-spacing:0.612px;-webkit-text-stroke:0.3px;">MAPD-27</div>
<div class="t" style="margin-left:-7px;margin-top:-324px;left:462.68px;top:619.50px;font-size:28.0px;line-height:36px;color:#172b4d;letter-spacing:0.793px;-webkit-text-stroke:0.3px;">Integration testing</div>
<div class="b" style="left:205.5px;top:376.29999999999995px;width:39.5px;height:3.5px;background:#dcdde5;"></div>
<div class="b" style="left:245px;top:368px;width:16px;height:16px;border:2px solid #c0c7d8;border-radius:10px;background:#dbe2ef"></div>
<div class="b" style="left:281px;top:363px;width:28px;height:28px;background:#63a8e1;border-radius:4px;"></div>
<svg class="b" style="left:281px;top:363px;" width="28" height="28" viewBox="0 0 28 28"><path d="M8 14.500 L12.300 18.700 L20.200 9.800" fill="none" stroke="#fff" stroke-width="3.800" stroke-linecap="round" stroke-linejoin="round"/></svg>
<div class="t" style="margin-left:-7px;margin-top:-324px;left:46.45px;top:688.04px;font-size:19.8px;line-height:26px;color:#172b4d;letter-spacing:0.000px;">3</div>
<div class="t" style="margin-left:-7px;margin-top:-324px;left:325.85px;top:683.50px;font-size:28.0px;line-height:36px;color:#2a5bd7;letter-spacing:0.904px;-webkit-text-stroke:0.3px;">MAPD-26</div>
<div class="t" style="margin-left:-7px;margin-top:-324px;left:464.48px;top:683.50px;font-size:28.0px;line-height:36px;color:#172b4d;letter-spacing:0.880px;-webkit-text-stroke:0.3px;">Unit testing</div>
<div class="b" style="left:205.5px;top:440.29999999999995px;width:39.5px;height:3.5px;background:#dcdde5;"></div>
<div class="b" style="left:245px;top:432px;width:16px;height:16px;border:2px solid #c0c7d8;border-radius:10px;background:#dbe2ef"></div>
<div class="b" style="left:281px;top:427px;width:28px;height:28px;background:#79b84b;border-radius:4px;"></div>
<svg class="b" style="left:281px;top:427px;" width="28" height="28" viewBox="0 0 28 28"><path d="M9.200 5.900h9.600a1.200 1.200 0 0 1 1.200 1.200V22.300l-6-5L8 22.300V7.100a1.200 1.200 0 0 1 1.200-1.200z" fill="#fff"/></svg>
<div class="t" style="margin-left:-7px;margin-top:-324px;left:46.70px;top:752.04px;font-size:19.8px;line-height:26px;color:#172b4d;letter-spacing:0.000px;">4</div>
<div class="t" style="margin-left:-7px;margin-top:-324px;left:325.85px;top:747.50px;font-size:28.0px;line-height:36px;color:#2a5bd7;letter-spacing:0.854px;-webkit-text-stroke:0.3px;">MAPD-25</div>
<div class="t" style="margin-left:-7px;margin-top:-324px;left:465.98px;top:747.50px;font-size:28.0px;line-height:36px;color:#172b4d;letter-spacing:0.725px;-webkit-text-stroke:0.3px;">Testing</div>
<div class="b" style="left:205.5px;top:504.29999999999995px;width:39.5px;height:3.5px;background:#dcdde5;"></div>
<div class="b" style="left:245px;top:496px;width:16px;height:16px;border:2px solid #c0c7d8;border-radius:10px;background:#dbe2ef"></div>
<div class="b" style="left:281px;top:491px;width:28px;height:28px;background:#63a8e1;border-radius:4px;"></div>
<svg class="b" style="left:281px;top:491px;" width="28" height="28" viewBox="0 0 28 28"><path d="M8 14.500 L12.300 18.700 L20.200 9.800" fill="none" stroke="#fff" stroke-width="3.800" stroke-linecap="round" stroke-linejoin="round"/></svg>
<div class="t" style="margin-left:-7px;margin-top:-324px;left:46.45px;top:816.04px;font-size:19.8px;line-height:26px;color:#172b4d;letter-spacing:0.000px;">5</div>
<div class="t" style="margin-left:-7px;margin-top:-324px;left:325.85px;top:811.50px;font-size:28.0px;line-height:36px;color:#2a5bd7;letter-spacing:0.842px;-webkit-text-stroke:0.3px;">MAPD-24</div>
<div class="t" style="margin-left:-7px;margin-top:-324px;left:466.48px;top:811.50px;font-size:28.0px;line-height:36px;color:#172b4d;letter-spacing:0.361px;-webkit-text-stroke:0.3px;">API integration</div>
<div class="b" style="left:205.5px;top:568.3px;width:39.5px;height:3.5px;background:#dcdde5;"></div>
<div class="b" style="left:245px;top:560px;width:16px;height:16px;border:2px solid #c0c7d8;border-radius:10px;background:#dbe2ef"></div>
<div class="b" style="left:281px;top:555px;width:28px;height:28px;background:#63a8e1;border-radius:4px;"></div>
<svg class="b" style="left:281px;top:555px;" width="28" height="28" viewBox="0 0 28 28"><path d="M8 14.500 L12.300 18.700 L20.200 9.800" fill="none" stroke="#fff" stroke-width="3.800" stroke-linecap="round" stroke-linejoin="round"/></svg>
<div class="t" style="margin-left:-7px;margin-top:-324px;left:46.20px;top:880.04px;font-size:19.8px;line-height:26px;color:#172b4d;letter-spacing:0.000px;">6</div>
<div class="t" style="margin-left:-7px;margin-top:-324px;left:325.85px;top:875.50px;font-size:28.0px;line-height:36px;color:#2a5bd7;letter-spacing:0.854px;-webkit-text-stroke:0.3px;">MAPD-23</div>
<div class="t" style="margin-left:-7px;margin-top:-324px;left:464.35px;top:875.50px;font-size:28.0px;line-height:36px;color:#172b4d;letter-spacing:0.294px;-webkit-text-stroke:0.3px;">Database design ...</div>
<div class="b" style="left:205.5px;top:632.3px;width:39.5px;height:3.5px;background:#dcdde5;"></div>
<div class="b" style="left:245px;top:624px;width:16px;height:16px;border:2px solid #c0c7d8;border-radius:10px;background:#dbe2ef"></div>
<div class="b" style="left:281px;top:619px;width:28px;height:28px;background:#63a8e1;border-radius:4px;"></div>
<svg class="b" style="left:281px;top:619px;" width="28" height="28" viewBox="0 0 28 28"><path d="M8 14.500 L12.300 18.700 L20.200 9.800" fill="none" stroke="#fff" stroke-width="3.800" stroke-linecap="round" stroke-linejoin="round"/></svg>
<div class="t" style="margin-left:-7px;margin-top:-324px;left:46.20px;top:944.04px;font-size:19.8px;line-height:26px;color:#172b4d;letter-spacing:0.000px;">7</div>
<div class="t" style="margin-left:-7px;margin-top:-324px;left:325.85px;top:939.50px;font-size:28.0px;line-height:36px;color:#2a5bd7;letter-spacing:0.712px;-webkit-text-stroke:0.3px;">MAPD-22</div>
<div class="t" style="margin-left:-7px;margin-top:-324px;left:463.35px;top:939.50px;font-size:28.0px;line-height:36px;color:#172b4d;letter-spacing:0.493px;-webkit-text-stroke:0.3px;">Back-end develo...</div>
<div class="b" style="left:205.5px;top:696.3px;width:39.5px;height:3.5px;background:#dcdde5;"></div>
<div class="b" style="left:245px;top:688px;width:16px;height:16px;border:2px solid #c0c7d8;border-radius:10px;background:#dbe2ef"></div>
<div class="b" style="left:281px;top:683px;width:28px;height:28px;background:#63a8e1;border-radius:4px;"></div>
<svg class="b" style="left:281px;top:683px;" width="28" height="28" viewBox="0 0 28 28"><path d="M8 14.500 L12.300 18.700 L20.200 9.800" fill="none" stroke="#fff" stroke-width="3.800" stroke-linecap="round" stroke-linejoin="round"/></svg>
<div class="t" style="margin-left:-7px;margin-top:-324px;left:46.33px;top:1008.04px;font-size:19.8px;line-height:26px;color:#172b4d;letter-spacing:0.000px;">8</div>
<div class="t" style="margin-left:-7px;margin-top:-324px;left:325.85px;top:1003.50px;font-size:28.0px;line-height:36px;color:#2a5bd7;letter-spacing:0.175px;-webkit-text-stroke:0.3px;">MAPD-21</div>
<div class="t" style="margin-left:-7px;margin-top:-324px;left:460.35px;top:1003.50px;font-size:28.0px;line-height:36px;color:#172b4d;letter-spacing:0.519px;-webkit-text-stroke:0.3px;">Front-end develo...</div>
<div class="b" style="left:205.5px;top:760.3px;width:39.5px;height:3.5px;background:#dcdde5;"></div>
<div class="b" style="left:245px;top:752px;width:16px;height:16px;border:2px solid #c0c7d8;border-radius:10px;background:#dbe2ef"></div>
<div class="b" style="left:281px;top:747px;width:28px;height:28px;background:#63a8e1;border-radius:4px;"></div>
<svg class="b" style="left:281px;top:747px;" width="28" height="28" viewBox="0 0 28 28"><path d="M8 14.500 L12.300 18.700 L20.200 9.800" fill="none" stroke="#fff" stroke-width="3.800" stroke-linecap="round" stroke-linejoin="round"/></svg>
<div class="t" style="margin-left:-7px;margin-top:-324px;left:46.33px;top:1072.04px;font-size:19.8px;line-height:26px;color:#172b4d;letter-spacing:0.000px;">9</div>
<div class="t" style="margin-left:-7px;margin-top:-324px;left:325.85px;top:1067.50px;font-size:28.0px;line-height:36px;color:#2a5bd7;letter-spacing:0.833px;-webkit-text-stroke:0.3px;">MAPD-20</div>
<div class="t" style="margin-left:-7px;margin-top:-324px;left:465.35px;top:1067.50px;font-size:28.0px;line-height:36px;color:#172b4d;letter-spacing:0.371px;-webkit-text-stroke:0.3px;">Setup developme...</div>
<div class="b" style="left:205.5px;top:824.3px;width:39.5px;height:3.5px;background:#dcdde5;"></div>
<div class="b" style="left:245px;top:816px;width:16px;height:16px;border:2px solid #c0c7d8;border-radius:10px;background:#dbe2ef"></div>
<div class="b" style="left:281px;top:811px;width:28px;height:28px;background:#79b84b;border-radius:4px;"></div>
<svg class="b" style="left:281px;top:811px;" width="28" height="28" viewBox="0 0 28 28"><path d="M9.200 5.900h9.600a1.200 1.200 0 0 1 1.200 1.200V22.300l-6-5L8 22.300V7.100a1.200 1.200 0 0 1 1.200-1.200z" fill="#fff"/></svg>
<div class="t" style="margin-left:-7px;margin-top:-324px;left:45.70px;top:1136.04px;font-size:19.8px;line-height:26px;color:#172b4d;letter-spacing:0.000px;">10</div>
<div class="t" style="margin-left:-7px;margin-top:-324px;left:325.85px;top:1131.50px;font-size:28.0px;line-height:36px;color:#2a5bd7;letter-spacing:0.425px;-webkit-text-stroke:0.3px;">MAPD-19</div>
<div class="t" style="margin-left:-7px;margin-top:-324px;left:461.35px;top:1131.50px;font-size:28.0px;line-height:36px;color:#172b4d;letter-spacing:0.467px;-webkit-text-stroke:0.3px;">Development</div>
<div class="b" style="left:205.5px;top:888.3px;width:39.5px;height:3.5px;background:#dcdde5;"></div>
<div class="b" style="left:245px;top:880px;width:16px;height:16px;border:2px solid #c0c7d8;border-radius:10px;background:#dbe2ef"></div>
<div class="b" style="left:281px;top:875px;width:28px;height:28px;background:#63a8e1;border-radius:4px;"></div>
<svg class="b" style="left:281px;top:875px;" width="28" height="28" viewBox="0 0 28 28"><path d="M8 14.500 L12.300 18.700 L20.200 9.800" fill="none" stroke="#fff" stroke-width="3.800" stroke-linecap="round" stroke-linejoin="round"/></svg>
<div class="t" style="margin-left:-7px;margin-top:-324px;left:45.70px;top:1200.04px;font-size:19.8px;line-height:26px;color:#172b4d;letter-spacing:0.000px;">11</div>
<div class="t" style="margin-left:-7px;margin-top:-324px;left:325.85px;top:1195.50px;font-size:28.0px;line-height:36px;color:#2a5bd7;letter-spacing:0.321px;-webkit-text-stroke:0.3px;">MAPD-18</div>
<div class="t" style="margin-left:-7px;margin-top:-324px;left:463.48px;top:1195.50px;font-size:28.0px;line-height:36px;color:#172b4d;letter-spacing:0.645px;-webkit-text-stroke:0.3px;">App architecture</div>
<div class="b" style="left:205.5px;top:952.3px;width:39.5px;height:3.5px;background:#dcdde5;"></div>
<div class="b" style="left:245px;top:944px;width:16px;height:16px;border:2px solid #c0c7d8;border-radius:10px;background:#dbe2ef"></div>
<div class="b" style="left:281px;top:939px;width:28px;height:28px;background:#63a8e1;border-radius:4px;"></div>
<svg class="b" style="left:281px;top:939px;" width="28" height="28" viewBox="0 0 28 28"><path d="M8 14.500 L12.300 18.700 L20.200 9.800" fill="none" stroke="#fff" stroke-width="3.800" stroke-linecap="round" stroke-linejoin="round"/></svg>
<div class="t" style="margin-left:-7px;margin-top:-324px;left:45.70px;top:1264.04px;font-size:19.8px;line-height:26px;color:#172b4d;letter-spacing:0.000px;">12</div>
<div class="t" style="margin-left:-7px;margin-top:-324px;left:325.85px;top:1259.50px;font-size:28.0px;line-height:36px;color:#2a5bd7;letter-spacing:-0.054px;-webkit-text-stroke:0.3px;">MAPD-17</div>
<div class="t" style="margin-left:-7px;margin-top:-324px;left:458.98px;top:1259.50px;font-size:28.0px;line-height:36px;color:#172b4d;letter-spacing:0.484px;-webkit-text-stroke:0.3px;">User interface (UI...</div>
<div class="b" style="left:205.5px;top:1016.3px;width:39.5px;height:3.5px;background:#dcdde5;"></div>
<div class="b" style="left:245px;top:1008px;width:16px;height:16px;border:2px solid #c0c7d8;border-radius:10px;background:#dbe2ef"></div>
<div class="b" style="left:281px;top:1003px;width:28px;height:28px;background:#63a8e1;border-radius:4px;"></div>
<svg class="b" style="left:281px;top:1003px;" width="28" height="28" viewBox="0 0 28 28"><path d="M8 14.500 L12.300 18.700 L20.200 9.800" fill="none" stroke="#fff" stroke-width="3.800" stroke-linecap="round" stroke-linejoin="round"/></svg>
<div class="t" style="margin-left:-7px;margin-top:-324px;left:45.70px;top:1328.04px;font-size:19.8px;line-height:26px;color:#172b4d;letter-spacing:0.000px;">13</div>
<div class="t" style="margin-left:-7px;margin-top:-324px;left:325.85px;top:1323.50px;font-size:28.0px;line-height:36px;color:#2a5bd7;letter-spacing:0.321px;-webkit-text-stroke:0.3px;">MAPD-16</div>
<div class="t" style="margin-left:-7px;margin-top:-324px;left:461.48px;top:1323.50px;font-size:28.0px;line-height:36px;color:#172b4d;letter-spacing:0.378px;-webkit-text-stroke:0.3px;">User experience (...</div>
<div class="b" style="left:205.5px;top:1080.3px;width:39.5px;height:3.5px;background:#dcdde5;"></div>
<div class="b" style="left:245px;top:1072px;width:16px;height:16px;border:2px solid #c0c7d8;border-radius:10px;background:#dbe2ef"></div>
<div class="b" style="left:281px;top:1067px;width:28px;height:28px;background:#63a8e1;border-radius:4px;"></div>
<svg class="b" style="left:281px;top:1067px;" width="28" height="28" viewBox="0 0 28 28"><path d="M8 14.500 L12.300 18.700 L20.200 9.800" fill="none" stroke="#fff" stroke-width="3.800" stroke-linecap="round" stroke-linejoin="round"/></svg>
<div class="t" style="margin-left:-7px;margin-top:-324px;left:45.70px;top:1392.04px;font-size:19.8px;line-height:26px;color:#172b4d;letter-spacing:0.000px;">14</div>
<div class="t" style="margin-left:-7px;margin-top:-324px;left:325.85px;top:1387.50px;font-size:28.0px;line-height:36px;color:#2a5bd7;letter-spacing:0.071px;-webkit-text-stroke:0.3px;">MAPD-15</div>
<div class="t" style="margin-left:-7px;margin-top:-324px;left:459.35px;top:1387.50px;font-size:28.0px;line-height:36px;color:#172b4d;letter-spacing:0.253px;-webkit-text-stroke:0.3px;">Mockups and Prot...</div>
<div class="b" style="left:155px;top:0;width:19px;height:1084px;background:linear-gradient(to right,rgba(215,218,228,0),rgba(215,218,228,0.5))"></div>
<div class="b" style="left:174px;top:0px;width:1px;height:1084px;background:#c6cad7;"></div>
<div class="b" style="left:733px;top:0px;width:200px;height:1084px;background:#fff;"></div>
<div class="b" style="left:733px;top:154px;width:200px;height:62px;background:#f1effd;"></div>
<div class="b" style="left:734px;top:0;width:26px;height:1084px;background:linear-gradient(to right,rgba(215,217,226,0.450),rgba(223,225,232,0))"></div>
<div class="b" style="left:732.5px;top:0px;width:2px;height:1084px;background:#cfd2dd;"></div>
<div class="b" style="left:734px;top:24px;width:199px;height:2px;background:#dfe1e8;"></div>
<div class="b" style="left:734px;top:88px;width:199px;height:2px;background:#dfe1e8;"></div>
<div class="b" style="left:734px;top:152px;width:199px;height:2px;background:#dfe1e8;"></div>
<div class="b" style="left:734px;top:216px;width:199px;height:2px;background:#dfe1e8;"></div>
<div class="b" style="left:734px;top:280px;width:199px;height:2px;background:#dfe1e8;"></div>
<div class="b" style="left:734px;top:344px;width:199px;height:2px;background:#dfe1e8;"></div>
<div class="b" style="left:734px;top:408px;width:199px;height:2px;background:#dfe1e8;"></div>
<div class="b" style="left:734px;top:472px;width:199px;height:2px;background:#dfe1e8;"></div>
<div class="b" style="left:734px;top:536px;width:199px;height:2px;background:#dfe1e8;"></div>
<div class="b" style="left:734px;top:600px;width:199px;height:2px;background:#dfe1e8;"></div>
<div class="b" style="left:734px;top:664px;width:199px;height:2px;background:#dfe1e8;"></div>
<div class="b" style="left:734px;top:728px;width:199px;height:2px;background:#dfe1e8;"></div>
<div class="b" style="left:734px;top:792px;width:199px;height:2px;background:#dfe1e8;"></div>
<div class="b" style="left:734px;top:856px;width:199px;height:2px;background:#dfe1e8;"></div>
<div class="b" style="left:734px;top:920px;width:199px;height:2px;background:#dfe1e8;"></div>
<div class="b" style="left:734px;top:984px;width:199px;height:2px;background:#dfe1e8;"></div>
<div class="b" style="left:734px;top:1048px;width:199px;height:2px;background:#dfe1e8;"></div>
<div class="b" style="left:751px;top:-21px;width:87px;height:28px;background:#f0f1f4;border-radius:6px;"></div>
<div class="t" style="margin-left:-7px;margin-top:-324px;left:767.35px;top:302.97px;font-size:22.6px;line-height:29px;color:#1b2a4a;letter-spacing:-0.550px;font-weight:bold;-webkit-text-stroke:0.3px;">TO DO</div>
<div class="b" style="left:751px;top:43px;width:87px;height:28px;background:#f0f1f4;border-radius:6px;"></div>
<div class="t" style="margin-left:-7px;margin-top:-324px;left:767.35px;top:366.97px;font-size:22.6px;line-height:29px;color:#1b2a4a;letter-spacing:-0.550px;font-weight:bold;-webkit-text-stroke:0.3px;">TO DO</div>
<div class="b" style="left:751px;top:107px;width:87px;height:28px;background:#f0f1f4;border-radius:6px;"></div>
<div class="t" style="margin-left:-7px;margin-top:-324px;left:767.35px;top:430.97px;font-size:22.6px;line-height:29px;color:#1b2a4a;letter-spacing:-0.550px;font-weight:bold;-webkit-text-stroke:0.3px;">TO DO</div>
<div class="b" style="left:751px;top:171px;width:87px;height:28px;background:#e6e6f2;border-radius:6px;"></div>
<div class="t" style="margin-left:-7px;margin-top:-324px;left:767.35px;top:494.97px;font-size:22.6px;line-height:29px;color:#1b2a4a;letter-spacing:-0.550px;font-weight:bold;-webkit-text-stroke:0.3px;">TO DO</div>
<div class="b" style="left:751px;top:235px;width:87px;height:28px;background:#f0f1f4;border-radius:6px;"></div>
<div class="t" style="margin-left:-7px;margin-top:-324px;left:767.35px;top:558.97px;font-size:22.6px;line-height:29px;color:#1b2a4a;letter-spacing:-0.550px;font-weight:bold;-webkit-text-stroke:0.3px;">TO DO</div>
<div class="b" style="left:751px;top:299px;width:87px;height:28px;background:#f0f1f4;border-radius:6px;"></div>
<div class="t" style="margin-left:-7px;margin-top:-324px;left:767.35px;top:622.97px;font-size:22.6px;line-height:29px;color:#1b2a4a;letter-spacing:-0.550px;font-weight:bold;-webkit-text-stroke:0.3px;">TO DO</div>
<div class="b" style="left:751px;top:363px;width:87px;height:28px;background:#f0f1f4;border-radius:6px;"></div>
<div class="t" style="margin-left:-7px;margin-top:-324px;left:767.35px;top:686.97px;font-size:22.6px;line-height:29px;color:#1b2a4a;letter-spacing:-0.550px;font-weight:bold;-webkit-text-stroke:0.3px;">TO DO</div>
<div class="b" style="left:751px;top:427px;width:87px;height:28px;background:#f0f1f4;border-radius:6px;"></div>
<div class="t" style="margin-left:-7px;margin-top:-324px;left:767.35px;top:750.97px;font-size:22.6px;line-height:29px;color:#1b2a4a;letter-spacing:-0.550px;font-weight:bold;-webkit-text-stroke:0.3px;">TO DO</div>
<div class="b" style="left:751px;top:491px;width:87px;height:28px;background:#f0f1f4;border-radius:6px;"></div>
<div class="t" style="margin-left:-7px;margin-top:-324px;left:767.35px;top:814.97px;font-size:22.6px;line-height:29px;color:#1b2a4a;letter-spacing:-0.550px;font-weight:bold;-webkit-text-stroke:0.3px;">TO DO</div>
<div class="b" style="left:751px;top:555px;width:87px;height:28px;background:#f0f1f4;border-radius:6px;"></div>
<div class="t" style="margin-left:-7px;margin-top:-324px;left:767.35px;top:878.97px;font-size:22.6px;line-height:29px;color:#1b2a4a;letter-spacing:-0.550px;font-weight:bold;-webkit-text-stroke:0.3px;">TO DO</div>
<div class="b" style="left:751px;top:619px;width:87px;height:28px;background:#f0f1f4;border-radius:6px;"></div>
<div class="t" style="margin-left:-7px;margin-top:-324px;left:767.35px;top:942.97px;font-size:22.6px;line-height:29px;color:#1b2a4a;letter-spacing:-0.550px;font-weight:bold;-webkit-text-stroke:0.3px;">TO DO</div>
<div class="b" style="left:751px;top:683px;width:87px;height:28px;background:#f0f1f4;border-radius:6px;"></div>
<div class="t" style="margin-left:-7px;margin-top:-324px;left:767.35px;top:1006.97px;font-size:22.6px;line-height:29px;color:#1b2a4a;letter-spacing:-0.550px;font-weight:bold;-webkit-text-stroke:0.3px;">TO DO</div>
<div class="b" style="left:751px;top:747px;width:87px;height:28px;background:#f0f1f4;border-radius:6px;"></div>
<div class="t" style="margin-left:-7px;margin-top:-324px;left:767.35px;top:1070.97px;font-size:22.6px;line-height:29px;color:#1b2a4a;letter-spacing:-0.550px;font-weight:bold;-webkit-text-stroke:0.3px;">TO DO</div>
<div class="b" style="left:751px;top:811px;width:87px;height:28px;background:#f0f1f4;border-radius:6px;"></div>
<div class="t" style="margin-left:-7px;margin-top:-324px;left:767.35px;top:1134.97px;font-size:22.6px;line-height:29px;color:#1b2a4a;letter-spacing:-0.550px;font-weight:bold;-webkit-text-stroke:0.3px;">TO DO</div>
<div class="b" style="left:751px;top:875px;width:87px;height:28px;background:#f0f1f4;border-radius:6px;"></div>
<div class="t" style="margin-left:-7px;margin-top:-324px;left:767.35px;top:1198.97px;font-size:22.6px;line-height:29px;color:#1b2a4a;letter-spacing:-0.550px;font-weight:bold;-webkit-text-stroke:0.3px;">TO DO</div>
<div class="b" style="left:751px;top:939px;width:87px;height:28px;background:#f0f1f4;border-radius:6px;"></div>
<div class="t" style="margin-left:-7px;margin-top:-324px;left:767.35px;top:1262.97px;font-size:22.6px;line-height:29px;color:#1b2a4a;letter-spacing:-0.550px;font-weight:bold;-webkit-text-stroke:0.3px;">TO DO</div>
<div class="b" style="left:751px;top:1003px;width:87px;height:28px;background:#f0f1f4;border-radius:6px;"></div>
<div class="t" style="margin-left:-7px;margin-top:-324px;left:767.35px;top:1326.97px;font-size:22.6px;line-height:29px;color:#1b2a4a;letter-spacing:-0.550px;font-weight:bold;-webkit-text-stroke:0.3px;">TO DO</div>
<div class="b" style="left:751px;top:1067px;width:87px;height:28px;background:#f0f1f4;border-radius:6px;"></div>
<div class="t" style="margin-left:-7px;margin-top:-324px;left:767.35px;top:1390.97px;font-size:22.6px;line-height:29px;color:#1b2a4a;letter-spacing:-0.550px;font-weight:bold;-webkit-text-stroke:0.3px;">TO DO</div>
<div class="b" style="left:931.5px;top:0px;width:2px;height:1084px;background:#e1e3ea;"></div>
</div>
<div class="b" style="left:7px;top:262px;width:961px;height:60px;background:#fff;"></div>
<div class="b" style="left:7px;top:322px;width:961px;height:2px;background:#d6d8e1;"></div>
<div class="b" style="left:740px;top:262px;width:2px;height:60px;background:#dcdee6;"></div>
<div class="b" style="left:940px;top:262px;width:2px;height:60px;background:#dcdee6;"></div>
<div class="t" style="left:46.40px;top:275.45px;font-size:29px;line-height:38px;color:#44526e;letter-spacing:1.675px;font-weight:bold;">#</div>
<div class="t" style="left:197.72px;top:275.45px;font-size:29px;line-height:38px;color:#44526e;letter-spacing:-0.238px;font-weight:bold;">Issue</div>
<svg class="b" style="left:760px;top:284px;" width="28" height="22" viewBox="0 0 28 22"><path d="M3 3.500H25 M6.500 10.500H21.500" stroke="#44526e" stroke-width="2.800" stroke-linecap="round"/><path d="M11.800 16.300h4.400l-2.200 2.200z" fill="#44526e" stroke="#44526e" stroke-width="2" stroke-linejoin="round"/></svg>
<div class="t" style="left:798.73px;top:275.45px;font-size:29px;line-height:38px;color:#44526e;letter-spacing:0.035px;font-weight:bold;">Status</div>
<div class="b" style="left:942px;top:262px;width:26px;height:60px;overflow:hidden">
<svg class="b" style="left:18px;top:22px;" width="28" height="22" viewBox="0 0 28 22"><path d="M3 3.500H25 M6.500 10.500H21.500" stroke="#44526e" stroke-width="2.800" stroke-linecap="round"/></svg>
</div>
<div class="b" style="left:941px;top:324px;width:27px;height:1084px;background:#fafafa;"></div>
<div class="b" style="left:941px;top:324px;width:1px;height:1084px;background:#e8e8ea;"></div>
<div class="b" style="left:946px;top:435px;width:16px;height:484px;background:#c1c1c1;border-radius:8px;"></div>
<div class="b" style="left:7px;top:1408px;width:961px;height:18px;background:#fafafa;"></div>
<div class="b" style="left:7px;top:1408px;width:961px;height:1.5px;background:#e8e8ea;"></div>
<div class="b" style="left:12px;top:1416px;width:440px;height:16px;background:#c1c1c1;border-radius:8px;"></div>
<div class="b" style="left:968px;top:196px;width:12px;height:1230px;background:#d4d7df;"></div>
<div class="b" style="left:1.8px;top:0px;width:6px;height:1426px;background:rgba(214,219,228,0.450);"></div>
</body></html>
